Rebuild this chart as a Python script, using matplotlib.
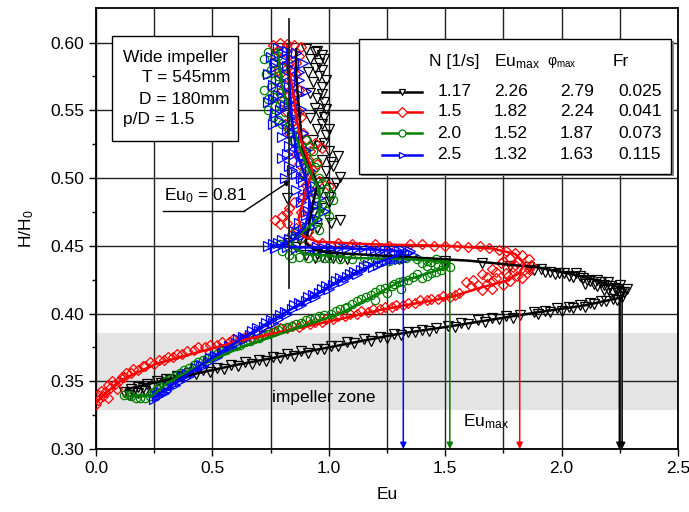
import numpy as np
import matplotlib
matplotlib.use('Agg')
import matplotlib.pyplot as plt
from matplotlib.patches import Rectangle
from matplotlib.lines import Line2D

plt.rcParams['font.family'] = ['Liberation Sans', 'DejaVu Sans']
plt.rcParams['mathtext.fontset'] = 'custom'
plt.rcParams['mathtext.rm'] = 'Liberation Sans'
plt.rcParams['mathtext.it'] = 'Liberation Sans:italic'

# legend table values
speeds = ['1.17', '1.5', '2.0', '2.5']
eu_max = [2.26, 1.82, 1.52, 1.32]
phi_max = ['2.79', '2.24', '1.87', '1.63']
froude = ['0.025', '0.041', '0.073', '0.115']
colors = ['black', 'red', 'green', 'blue']
markers = ['v', 'D', 'o', '>']
arrow_top = [0.412, 0.430, 0.436, 0.444]
eu0_line = 0.83
zone = (0.3288, 0.3857)

# measured points (Eu, H/H0)
black_pts = np.array([
    (0.90,0.595),(0.94,0.593),(0.97,0.591),(0.92,0.588),(0.96,0.585),(0.94,0.581),(0.91,0.578),(0.96,0.575),
    (0.93,0.571),(0.97,0.567),(0.92,0.563),(0.95,0.559),(0.98,0.556),(0.94,0.552),(0.96,0.548),(0.92,0.544),
    (0.97,0.540),(0.95,0.536),(0.99,0.532),(0.93,0.528),(0.96,0.524),(1.00,0.520),(1.04,0.516),(0.97,0.513),
    (1.02,0.509),(0.99,0.505),(1.05,0.501),(0.98,0.497),(1.02,0.493),(0.96,0.489),(0.82,0.485),(1.00,0.482),
    (0.97,0.478),(0.93,0.474),(1.05,0.469),(1.01,0.467),(0.95,0.463),(0.91,0.459),(0.87,0.455),(0.83,0.452),
    (0.86,0.449),(0.95,0.594),(0.98,0.588),(0.97,0.580),(0.99,0.572),(0.97,0.562),(0.99,0.551),(0.98,0.545),
    (1.00,0.536),(0.98,0.526),(1.01,0.512),(1.03,0.496),(1.00,0.486),
    (0.90,0.443),(0.94,0.441),(0.97,0.442),(1.02,0.441),(1.08,0.440),(1.30,0.440),(1.50,0.439),(1.66,0.437),
    (1.78,0.435),(1.86,0.434),(1.91,0.433),(1.95,0.431),(1.99,0.430),(2.03,0.428),(2.06,0.430),(2.09,0.426),
    (2.12,0.424),(2.15,0.425),(2.18,0.421),(2.20,0.423),(2.23,0.419),(2.25,0.421),(2.28,0.418),(2.26,0.416),
    (2.22,0.415),(2.18,0.417),(1.88,0.432),(1.93,0.431),(1.97,0.429),(2.01,0.430),(2.05,0.427),(2.08,0.428),
    (2.11,0.425),(2.14,0.422),(2.17,0.423),(2.21,0.420),(2.24,0.418),(2.27,0.416),(2.20,0.418),(2.15,0.420),
    (2.10,0.422),(1.00,0.443),(1.05,0.442),(0.95,0.444),
    (2.26,0.412),(2.22,0.411),(2.17,0.409),(2.12,0.408),(2.08,0.406),(2.03,0.405),(1.98,0.404),(1.93,0.402),
    (1.88,0.401),(1.82,0.399),(1.76,0.398),(1.70,0.397),(1.64,0.395),(1.57,0.393),(1.51,0.391),(1.46,0.389),
    (1.40,0.388),(1.34,0.386),(1.28,0.385),(1.22,0.383),(1.15,0.381),(1.08,0.379),(1.01,0.376),(0.95,0.374),
    (0.88,0.372),(0.82,0.370),(0.76,0.368),(0.70,0.366),(0.64,0.364),(0.58,0.362),(0.52,0.360),(0.46,0.358),
    (0.40,0.356),(0.35,0.354),(0.30,0.352),(0.26,0.350),(0.22,0.348),(0.18,0.346),(0.15,0.344),(0.12,0.342),
    (0.18,0.341),(0.21,0.343),
    (2.24,0.410),(2.19,0.409),(2.14,0.407),(2.10,0.405),(2.05,0.404),(2.00,0.402),(1.95,0.401),(1.90,0.400),
    (1.79,0.397),(1.73,0.396),(1.67,0.394),(1.60,0.392),(1.54,0.390),(1.43,0.387),(1.37,0.386),(1.31,0.384),
    (1.25,0.382),(1.18,0.380),(1.11,0.378),(1.04,0.376),(0.98,0.374),(0.91,0.371),(0.85,0.369),(0.79,0.367),
    (0.73,0.365),(0.67,0.363),(0.61,0.361),(0.55,0.359),(0.49,0.357),(0.43,0.355),(0.37,0.353),(0.32,0.351),
    (0.28,0.349),(0.24,0.346),(0.20,0.345),(0.16,0.342),(0.14,0.340)])

red_pts = np.array([
    (0.76,0.598),(0.79,0.600),(0.82,0.599),(0.85,0.598),(0.88,0.597),(0.78,0.594),(0.84,0.592),(0.80,0.588),
    (0.86,0.585),(0.82,0.581),(0.79,0.577),(0.84,0.573),(0.81,0.569),(0.87,0.565),(0.83,0.561),(0.80,0.557),
    (0.85,0.553),(0.82,0.549),(0.88,0.545),(0.84,0.541),(0.86,0.537),(0.83,0.533),(0.90,0.529),(0.94,0.526),
    (0.97,0.522),(0.86,0.518),(0.91,0.514),(0.87,0.510),(0.93,0.506),(0.89,0.502),(0.96,0.498),(1.00,0.494),
    (0.93,0.490),(0.89,0.486),(0.85,0.482),(0.83,0.478),(0.88,0.475),(0.80,0.472),(0.77,0.469),(0.82,0.467),
    (0.86,0.463),(0.84,0.459),(0.88,0.456),(0.92,0.454),
    (0.77,0.590),(0.87,0.590),(0.83,0.585),(0.78,0.580),(0.86,0.577),(0.80,0.565),(0.84,0.557),(0.87,0.549),
    (0.81,0.540),(0.89,0.533),(0.92,0.520),(0.95,0.510),(0.90,0.495),(0.82,0.474),(0.79,0.466),(0.91,0.460),
    (0.97,0.452),(1.04,0.452),(1.10,0.451),(1.20,0.451),(1.26,0.450),(1.45,0.450),(1.50,0.450),(1.60,0.449),
    (1.65,0.450),(1.69,0.448),(1.73,0.447),(1.76,0.446),(1.80,0.445),(1.83,0.443),(1.78,0.441),(1.86,0.440),
    (1.81,0.438),(1.74,0.437),(1.87,0.436),(1.79,0.434),(1.70,0.433),(1.84,0.432),(1.76,0.430),(1.66,0.429),
    (1.81,0.428),(1.72,0.426),(1.62,0.425),(1.78,0.424),(1.68,0.422),(1.59,0.423),(1.61,0.420),(1.70,0.418),
    (1.75,0.421),(1.66,0.417),(1.83,0.426),(1.85,0.430),(1.86,0.433),(1.75,0.439),(1.72,0.431),(1.68,0.427),
    (1.77,0.428),(1.80,0.436),(1.70,0.424),(1.64,0.421),(1.35,0.451),(1.55,0.450),(1.40,0.451),
    (1.56,0.415),(1.52,0.412),(1.47,0.411),(1.42,0.410),(1.37,0.408),(1.32,0.406),(1.27,0.405),(1.22,0.403),
    (1.17,0.401),(1.12,0.400),(1.07,0.398),(1.02,0.396),(0.97,0.394),(0.92,0.392),(0.87,0.390),(0.82,0.389),
    (0.77,0.387),(0.72,0.385),(0.67,0.383),(0.62,0.381),(0.57,0.379),(0.52,0.377),(0.47,0.375),(0.42,0.373),
    (0.37,0.370),(0.33,0.368),(0.29,0.366),(0.25,0.363),(0.21,0.361),(0.18,0.358),(0.15,0.356),(0.12,0.353),
    (0.10,0.350),(0.08,0.348),(0.06,0.345),(0.04,0.342),(0.03,0.339),(0.01,0.336),(0.00,0.333),(0.05,0.338),
    (0.09,0.344),
    (1.54,0.414),(1.49,0.413),(1.44,0.411),(1.39,0.410),(1.34,0.408),(1.29,0.406),(1.24,0.405),(1.19,0.403),
    (1.14,0.402),(1.09,0.400),(1.04,0.398),(0.99,0.396),(0.94,0.394),(0.89,0.392),(0.84,0.391),(0.79,0.389),
    (0.74,0.387),(0.69,0.385),(0.64,0.383),(0.59,0.381),(0.54,0.379),(0.49,0.377),(0.44,0.375),(0.39,0.372),
    (0.35,0.370),(0.31,0.368),(0.27,0.366),(0.23,0.364),(0.20,0.361),(0.16,0.359),(0.13,0.356),(0.11,0.353),
    (0.07,0.350),(0.05,0.347),(0.02,0.343),(0.01,0.340)])

green_pts = np.array([
    (0.74,0.593),(0.78,0.590),(0.76,0.585),(0.80,0.581),(0.73,0.577),(0.77,0.572),(0.75,0.567),(0.79,0.563),
    (0.74,0.558),(0.77,0.553),(0.81,0.549),(0.76,0.545),(0.80,0.540),(0.83,0.536),(0.86,0.532),(0.90,0.528),
    (0.88,0.524),(0.93,0.520),(0.87,0.516),(0.91,0.512),(0.94,0.508),(0.89,0.504),(0.96,0.500),(0.92,0.496),
    (0.99,0.492),(0.94,0.488),(1.02,0.484),(0.97,0.480),(0.93,0.476),(1.00,0.472),(0.95,0.468),(0.90,0.464),
    (0.86,0.460),(0.82,0.455),(0.79,0.451),(0.80,0.446),(0.83,0.443),(0.87,0.442),(0.91,0.441),(0.95,0.442),
    (0.72,0.588),(0.75,0.580),(0.78,0.575),(0.72,0.565),(0.76,0.560),(0.79,0.555),(0.74,0.550),(0.78,0.543),
    (0.82,0.538),(0.85,0.528),(0.92,0.524),(0.90,0.518),(0.95,0.512),(0.92,0.502),(0.97,0.496),(1.01,0.488),
    (0.99,0.476),(0.96,0.462),(0.88,0.456),
    (1.00,0.441),(1.05,0.440),(1.20,0.440),(1.26,0.439),(1.33,0.441),(1.38,0.440),(1.42,0.439),(1.46,0.440),
    (1.50,0.438),(1.47,0.436),(1.42,0.435),(1.52,0.434),(1.10,0.440),(1.15,0.441),(1.30,0.440),(1.40,0.437),
    (1.44,0.438),(1.49,0.435),(0.98,0.441),(0.84,0.441),
    (1.48,0.432),(1.44,0.430),(1.38,0.429),(1.40,0.426),(1.34,0.425),(1.30,0.423),(1.27,0.420),(1.31,0.418),
    (1.22,0.418),(1.25,0.415),(1.18,0.414),(1.20,0.410),(1.14,0.411),(1.10,0.407),(1.07,0.404),(1.03,0.402),
    (0.98,0.399),(0.94,0.397),(0.90,0.395),(0.86,0.392),(0.82,0.390),(0.78,0.388),(0.74,0.385),(0.70,0.382),
    (0.66,0.380),(0.62,0.377),(0.58,0.375),(0.54,0.372),(0.50,0.369),(0.46,0.366),(0.42,0.362),(0.38,0.358),
    (0.34,0.354),(0.30,0.350),(0.27,0.346),(0.25,0.342),(0.23,0.339),(0.19,0.338),(0.15,0.339),(0.12,0.340),
    (1.46,0.431),(1.42,0.428),(1.36,0.427),(1.32,0.424),(1.28,0.422),(1.24,0.419),(1.20,0.416),(1.16,0.412),
    (1.12,0.409),(1.08,0.405),(1.05,0.403),(1.01,0.400),(0.96,0.398),(0.92,0.396),(0.88,0.393),(0.84,0.391),
    (0.80,0.389),(0.76,0.386),(0.72,0.384),(0.68,0.381),(0.64,0.379),(0.60,0.376),(0.56,0.373),(0.52,0.370),
    (0.48,0.367),(0.44,0.364),(0.40,0.360),(0.36,0.356),(0.32,0.352),(0.29,0.348),(0.26,0.344),(0.24,0.341),
    (0.21,0.338),(0.17,0.338),(0.14,0.340)])

blue_pts = np.array([
    (0.78,0.596),(0.82,0.594),(0.86,0.592),(0.75,0.589),(0.80,0.587),(0.89,0.585),(0.77,0.582),(0.84,0.580),
    (0.74,0.577),(0.81,0.575),(0.87,0.572),(0.76,0.569),(0.83,0.567),(0.90,0.564),(0.78,0.561),(0.85,0.559),
    (0.74,0.556),(0.81,0.553),(0.88,0.551),(0.77,0.548),(0.84,0.545),(0.79,0.542),(0.86,0.539),(0.82,0.536),
    (0.89,0.533),(0.80,0.530),(0.86,0.527),(0.83,0.524),(0.90,0.521),(0.85,0.518),(0.80,0.515),(0.88,0.512),
    (0.83,0.509),(0.92,0.506),(0.86,0.503),(0.81,0.500),(0.89,0.497),(0.94,0.494),(0.86,0.491),(0.91,0.488),
    (0.96,0.485),(0.88,0.482),(0.93,0.479),(0.98,0.476),(0.90,0.473),(0.95,0.470),(0.87,0.467),(0.92,0.464),
    (0.85,0.461),(0.89,0.458),(0.83,0.455),(0.78,0.452),(0.74,0.450),(0.77,0.448),(0.82,0.449),(0.86,0.448),
    (0.80,0.592),(0.84,0.588),(0.77,0.585),(0.82,0.583),(0.87,0.578),(0.79,0.572),(0.85,0.570),(0.80,0.565),
    (0.87,0.562),(0.76,0.558),(0.83,0.556),(0.79,0.550),(0.86,0.548),(0.76,0.540),(0.84,0.533),(0.87,0.521),
    (0.82,0.518),(0.90,0.510),(0.84,0.506),(0.88,0.500),(0.92,0.492),(0.89,0.486),(0.95,0.480),(0.91,0.476),
    (0.93,0.468),(0.89,0.462),(0.86,0.457),(0.80,0.454),(0.76,0.451),
    (0.92,0.448),(0.98,0.448),(1.05,0.449),(1.12,0.448),(1.18,0.447),(1.22,0.446),(1.26,0.447),(1.30,0.446),
    (1.34,0.445),(1.36,0.443),(1.33,0.441),(1.30,0.440),(1.27,0.442),(0.95,0.449),(1.01,0.448),(1.08,0.448),
    (1.15,0.449),(1.20,0.446),(1.24,0.448),(1.28,0.445),(1.32,0.447),(1.35,0.446),(1.31,0.443),(1.28,0.440),
    (1.25,0.439),(1.21,0.436),(1.17,0.436),(1.14,0.432),(1.11,0.431),(1.08,0.427),(1.05,0.426),(1.02,0.421),
    (0.99,0.420),(0.96,0.415),(0.93,0.414),(0.90,0.409),(0.87,0.408),(0.84,0.403),(0.81,0.401),(0.78,0.396),
    (0.75,0.395),(0.72,0.390),(0.69,0.389),(0.66,0.384),(0.63,0.383),(0.60,0.378),(0.57,0.376),(0.54,0.371),
    (0.51,0.369),(0.48,0.364),(0.45,0.362),(0.42,0.357),(0.39,0.355),(0.36,0.350),(0.33,0.348),(0.30,0.343),
    (0.28,0.342),(0.26,0.339),(0.25,0.337),
    (1.23,0.438),(1.19,0.434),(1.15,0.434),(1.12,0.429),(1.09,0.429),(1.06,0.424),(1.03,0.424),(1.00,0.418),
    (0.97,0.418),(0.94,0.412),(0.91,0.412),(0.88,0.406),(0.85,0.406),(0.82,0.400),(0.79,0.399),(0.76,0.393),
    (0.73,0.393),(0.70,0.387),(0.67,0.387),(0.64,0.381),(0.61,0.381),(0.58,0.375),(0.55,0.374),(0.52,0.368),
    (0.49,0.367),(0.46,0.361),(0.43,0.360),(0.40,0.354),(0.37,0.353),(0.34,0.347),(0.31,0.346),(0.29,0.341),
    (0.27,0.340)])

# smoothed curves
black_fit = np.array([
    (0.86,0.595),(0.86,0.575),(0.87,0.555),(0.88,0.535),(0.89,0.520),(0.93,0.505),(0.95,0.495),(0.93,0.480),
    (0.92,0.470),(0.91,0.460),(0.90,0.452),(0.94,0.447),(1.00,0.445),(1.30,0.442),(1.60,0.439),(1.90,0.434),
    (2.10,0.427),(2.27,0.418),(2.26,0.412),(2.10,0.406),(1.90,0.401),(1.50,0.390),(1.30,0.385),(1.00,0.375),
    (0.60,0.362),(0.25,0.349),(0.13,0.344)])
red_fit = np.array([
    (0.82,0.598),(0.83,0.580),(0.85,0.560),(0.86,0.545),(0.88,0.528),(0.93,0.505),(0.90,0.490),(0.87,0.470),
    (0.89,0.457),(0.95,0.453),(1.20,0.451),(1.50,0.450),(1.70,0.448),(1.80,0.444),(1.84,0.437),(1.82,0.430),
    (1.76,0.424),(1.65,0.419),(1.52,0.412),(1.23,0.403),(1.05,0.396),(0.62,0.380),(0.26,0.363),(0.11,0.351),
    (0.04,0.341),(0.00,0.334)])
green_fit = np.array([
    (0.78,0.595),(0.79,0.580),(0.80,0.567),(0.83,0.550),(0.85,0.535),(0.90,0.511),(0.96,0.491),(0.96,0.471),
    (0.90,0.462),(0.85,0.455),(0.84,0.449),(0.90,0.444),(1.10,0.441),(1.35,0.440),(1.52,0.438),(1.51,0.434),
    (1.45,0.431),(1.30,0.423),(1.05,0.400),(0.62,0.375),(0.40,0.358),(0.30,0.348),(0.24,0.339),(0.12,0.339)])
blue_fit = np.array([
    (0.82,0.595),(0.83,0.570),(0.84,0.545),(0.86,0.520),(0.90,0.500),(0.92,0.480),(0.90,0.465),(0.85,0.455),
    (0.80,0.450),(0.76,0.450),(0.85,0.449),(1.10,0.448),(1.32,0.446),(1.30,0.443),(1.20,0.437),(1.05,0.425),
    (0.62,0.381),(0.40,0.356),(0.25,0.338)])

all_pts = [black_pts, red_pts, green_pts, blue_pts]
all_fit = [black_fit, red_fit, green_fit, blue_fit]
msizes = [6.5, 5.5, 6, 6.5]

fig = plt.figure(figsize=(6.89, 5.12), dpi=100)
ax = fig.add_axes([96/689, 1-449/512, 582/689, 441/512])
ax.set_xlim(0, 2.5)
ax.set_ylim(0.30, 0.6255)

ax.axhspan(zone[0], zone[1], color='#e4e4e4', zorder=0.2, lw=0)

ax.set_xticks(np.arange(0, 2.51, 0.5))
ax.set_xticks(np.arange(0.25, 2.5, 0.5), minor=True)
ax.set_yticks(np.arange(0.30, 0.601, 0.05))
ax.set_yticks(np.arange(0.325, 0.62, 0.05), minor=True)
ax.set_axisbelow(True)
ax.grid(which='both', axis='x', color='#222222', lw=1.0)
ax.grid(which='major', axis='y', color='#222222', lw=1.0)
ax.tick_params(which='major', direction='out', length=5, width=1, labelsize=12.5)
ax.tick_params(which='minor', direction='out', length=3, width=1)
ax.xaxis.set_major_formatter(plt.FormatStrFormatter('%.1f'))
ax.yaxis.set_major_formatter(plt.FormatStrFormatter('%.2f'))
for s in ax.spines.values():
    s.set_linewidth(1.3)

for pts, c, m, ms in zip(all_pts, colors, markers, msizes):
    ax.plot(pts[:, 0], pts[:, 1], ls='none', marker=m, ms=ms, mfc='none', mec=c, mew=0.9, zorder=3)
for fit, c in zip(all_fit, colors):
    ax.plot(fit[:, 0], fit[:, 1], color=c, lw=1.8, zorder=4)

# Eu_max arrows
for em, top, c in zip(eu_max, arrow_top, colors):
    ax.annotate('', xy=(em, 0.30), xytext=(em, top),
                arrowprops=dict(arrowstyle='-|>', color=c, lw=1.1, mutation_scale=9,
                                shrinkA=0, shrinkB=0), zorder=5)
ax.annotate('', xy=(eu_max[0] - 0.012, 0.30), xytext=(eu_max[0] - 0.012, arrow_top[0]),
            arrowprops=dict(arrowstyle='-|>', color='black', lw=1.1, mutation_scale=9,
                            shrinkA=0, shrinkB=0), zorder=5)
ax.text(1.576, 0.3205, r'Eu$_{\mathrm{max}}$', fontsize=12.5, va='center', ha='left')

# Eu0 line and label
ax.plot([eu0_line, eu0_line], [0.419, 0.6175], color='#222222', lw=1.3, zorder=4.5)
ax.text(0.292, 0.4872, r'Eu$_{\mathrm{0}}$ = 0.81', fontsize=12.5, va='center', ha='left')
ax.plot([0.286, 0.635], [0.4753, 0.4753], color='black', lw=1)
ax.annotate('', xy=(0.835, 0.498), xytext=(0.635, 0.4753),
            arrowprops=dict(arrowstyle='-|>', color='black', lw=1, mutation_scale=8,
                            shrinkA=0, shrinkB=0))

ax.text(0.756, 0.3377, 'impeller zone', fontsize=12.5, va='center', ha='left', zorder=6)

# info box
ax.add_patch(Rectangle((0.067, 0.527), 0.544, 0.0782, fc='white', ec='black', lw=1, zorder=6))
info = [('Wide impeller', 0.116, 0.5887), ('T = 545mm', 0.196, 0.5739),
        ('D = 180mm', 0.185, 0.5577), ('p/D = 1.5', 0.116, 0.5429)]
for t, x, y in info:
    ax.text(x, y, t, fontsize=12.5, va='center', ha='left', zorder=7)

# legend table
ax.add_patch(Rectangle((1.1305 + 0.009, 0.5028 - 0.0016), 1.3415, 0.0997, fc='#888888', ec='none', zorder=6))
ax.add_patch(Rectangle((1.1305, 0.5028), 1.3415, 0.0997, fc='white', ec='black', lw=1, zorder=6.5))
ax.text(1.43, 0.586, 'N [1/s]', fontsize=12.5, va='center', zorder=7)
ax.text(1.709, 0.586, r'Eu$_{\mathrm{max}}$', fontsize=12.5, va='center', zorder=7)
ax.text(1.936, 0.586, r'φ$_{\mathrm{max}}$', fontsize=10, va='center', zorder=7)
ax.text(2.22, 0.586, 'Fr', fontsize=12.5, va='center', zorder=7)
row_y = [0.5638, 0.5491, 0.5331, 0.5171]
for i in range(4):
    y = row_y[i]
    ax.add_line(Line2D([1.2267, 1.3985], [y, y], color=colors[i], lw=1.8, zorder=7))
    ax.add_line(Line2D([1.3126], [y], color=colors[i], marker=markers[i], ms=5, mfc='white',
                       mec=colors[i], mew=0.9, zorder=7.5))
    ax.text(1.4655, y, speeds[i], fontsize=12.5, va='center', zorder=7)
    ax.text(1.709, y, '%.2f' % eu_max[i], fontsize=12.5, va='center', zorder=7)
    ax.text(1.992, y, phi_max[i], fontsize=12.5, va='center', zorder=7)
    ax.text(2.2426, y, froude[i], fontsize=12.5, va='center', zorder=7)

ax.set_xlabel('Eu', fontsize=12.5, labelpad=8)
ax.set_ylabel(r'H/H$_{\mathrm{0}}$', fontsize=12.5, labelpad=10)

fig.savefig('out.png', dpi=100)
